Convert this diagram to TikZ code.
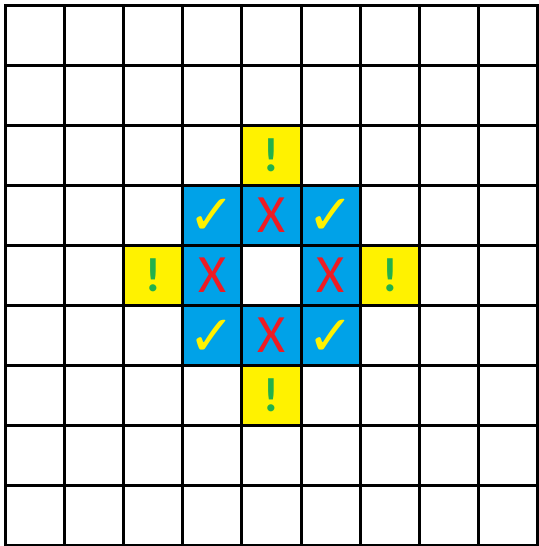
\documentclass[tikz,border=0pt]{standalone}
\usepackage{fontspec}
\setmainfont{Carlito}
\newfontfamily\symfont{DejaVu Sans}
\definecolor{cblue}{HTML}{00A2E8}
\definecolor{cyellow}{HTML}{FFF200}
\definecolor{cred}{HTML}{ED1C24}
\definecolor{cgreen}{HTML}{22B14C}
\tikzset{
  cellbase/.style={minimum width=59.22pt, minimum height=60.1pt, inner sep=0pt, outer sep=0pt},
  bluecell/.style={cellbase, fill=cblue},
  yellowcell/.style={cellbase, fill=cyellow},
  gridline/.style={line width=3pt, black, line cap=rect},
  chk/.style={text=cyellow, font=\symfont\fontsize{56}{56}\selectfont, yshift=-2pt},
  crs/.style={text=cred, font=\fontsize{54}{54}\selectfont},
  excl/.style={text=cgreen, font=\bfseries\fontsize{48}{48}\selectfont},
}
\begin{document}
\begin{tikzpicture}[x=1pt,y=-1pt]
\useasboundingbox (0,0) rectangle (538,546);
\fill[white] (0,0) rectangle (538,546);
\begin{scope}[shift={(5pt,-5pt)}, x=59.22pt, y=-60.1pt]
  % yellow cells
  \node[yellowcell] (y42) at (4.5,2.5) {};
  \node[yellowcell] (y24) at (2.5,4.5) {};
  \node[yellowcell] (y64) at (6.5,4.5) {};
  \node[yellowcell] (y46) at (4.5,6.5) {};
  % blue cells
  \node[bluecell] (b33) at (3.5,3.5) {};
  \node[bluecell] (b43) at (4.5,3.5) {};
  \node[bluecell] (b53) at (5.5,3.5) {};
  \node[bluecell] (b34) at (3.5,4.5) {};
  \node[bluecell] (b54) at (5.5,4.5) {};
  \node[bluecell] (b35) at (3.5,5.5) {};
  \node[bluecell] (b45) at (4.5,5.5) {};
  \node[bluecell] (b55) at (5.5,5.5) {};
  % grid
  \foreach \i in {0,...,9} {
    \draw[gridline] (\i,0) -- (\i,9);
    \draw[gridline] (0,\i) -- (9,\i);
  }
  % symbols
  \node[excl] (e42) at (4.5,2.5) {!};
  \node[excl] (e24) at (2.5,4.5) {!};
  \node[excl] (e64) at (6.5,4.5) {!};
  \node[excl] (e46) at (4.5,6.5) {!};
  \node[chk] (c33) at (3.5,3.5) {✓};
  \node[chk] (c53) at (5.5,3.5) {✓};
  \node[chk] (c35) at (3.5,5.5) {✓};
  \node[chk] (c55) at (5.5,5.5) {✓};
  \node[crs] (x43) at (4.5,3.5) {X};
  \node[crs] (x34) at (3.5,4.5) {X};
  \node[crs] (x54) at (5.5,4.5) {X};
  \node[crs] (x45) at (4.5,5.5) {X};
\end{scope}
\end{tikzpicture}
\end{document}
